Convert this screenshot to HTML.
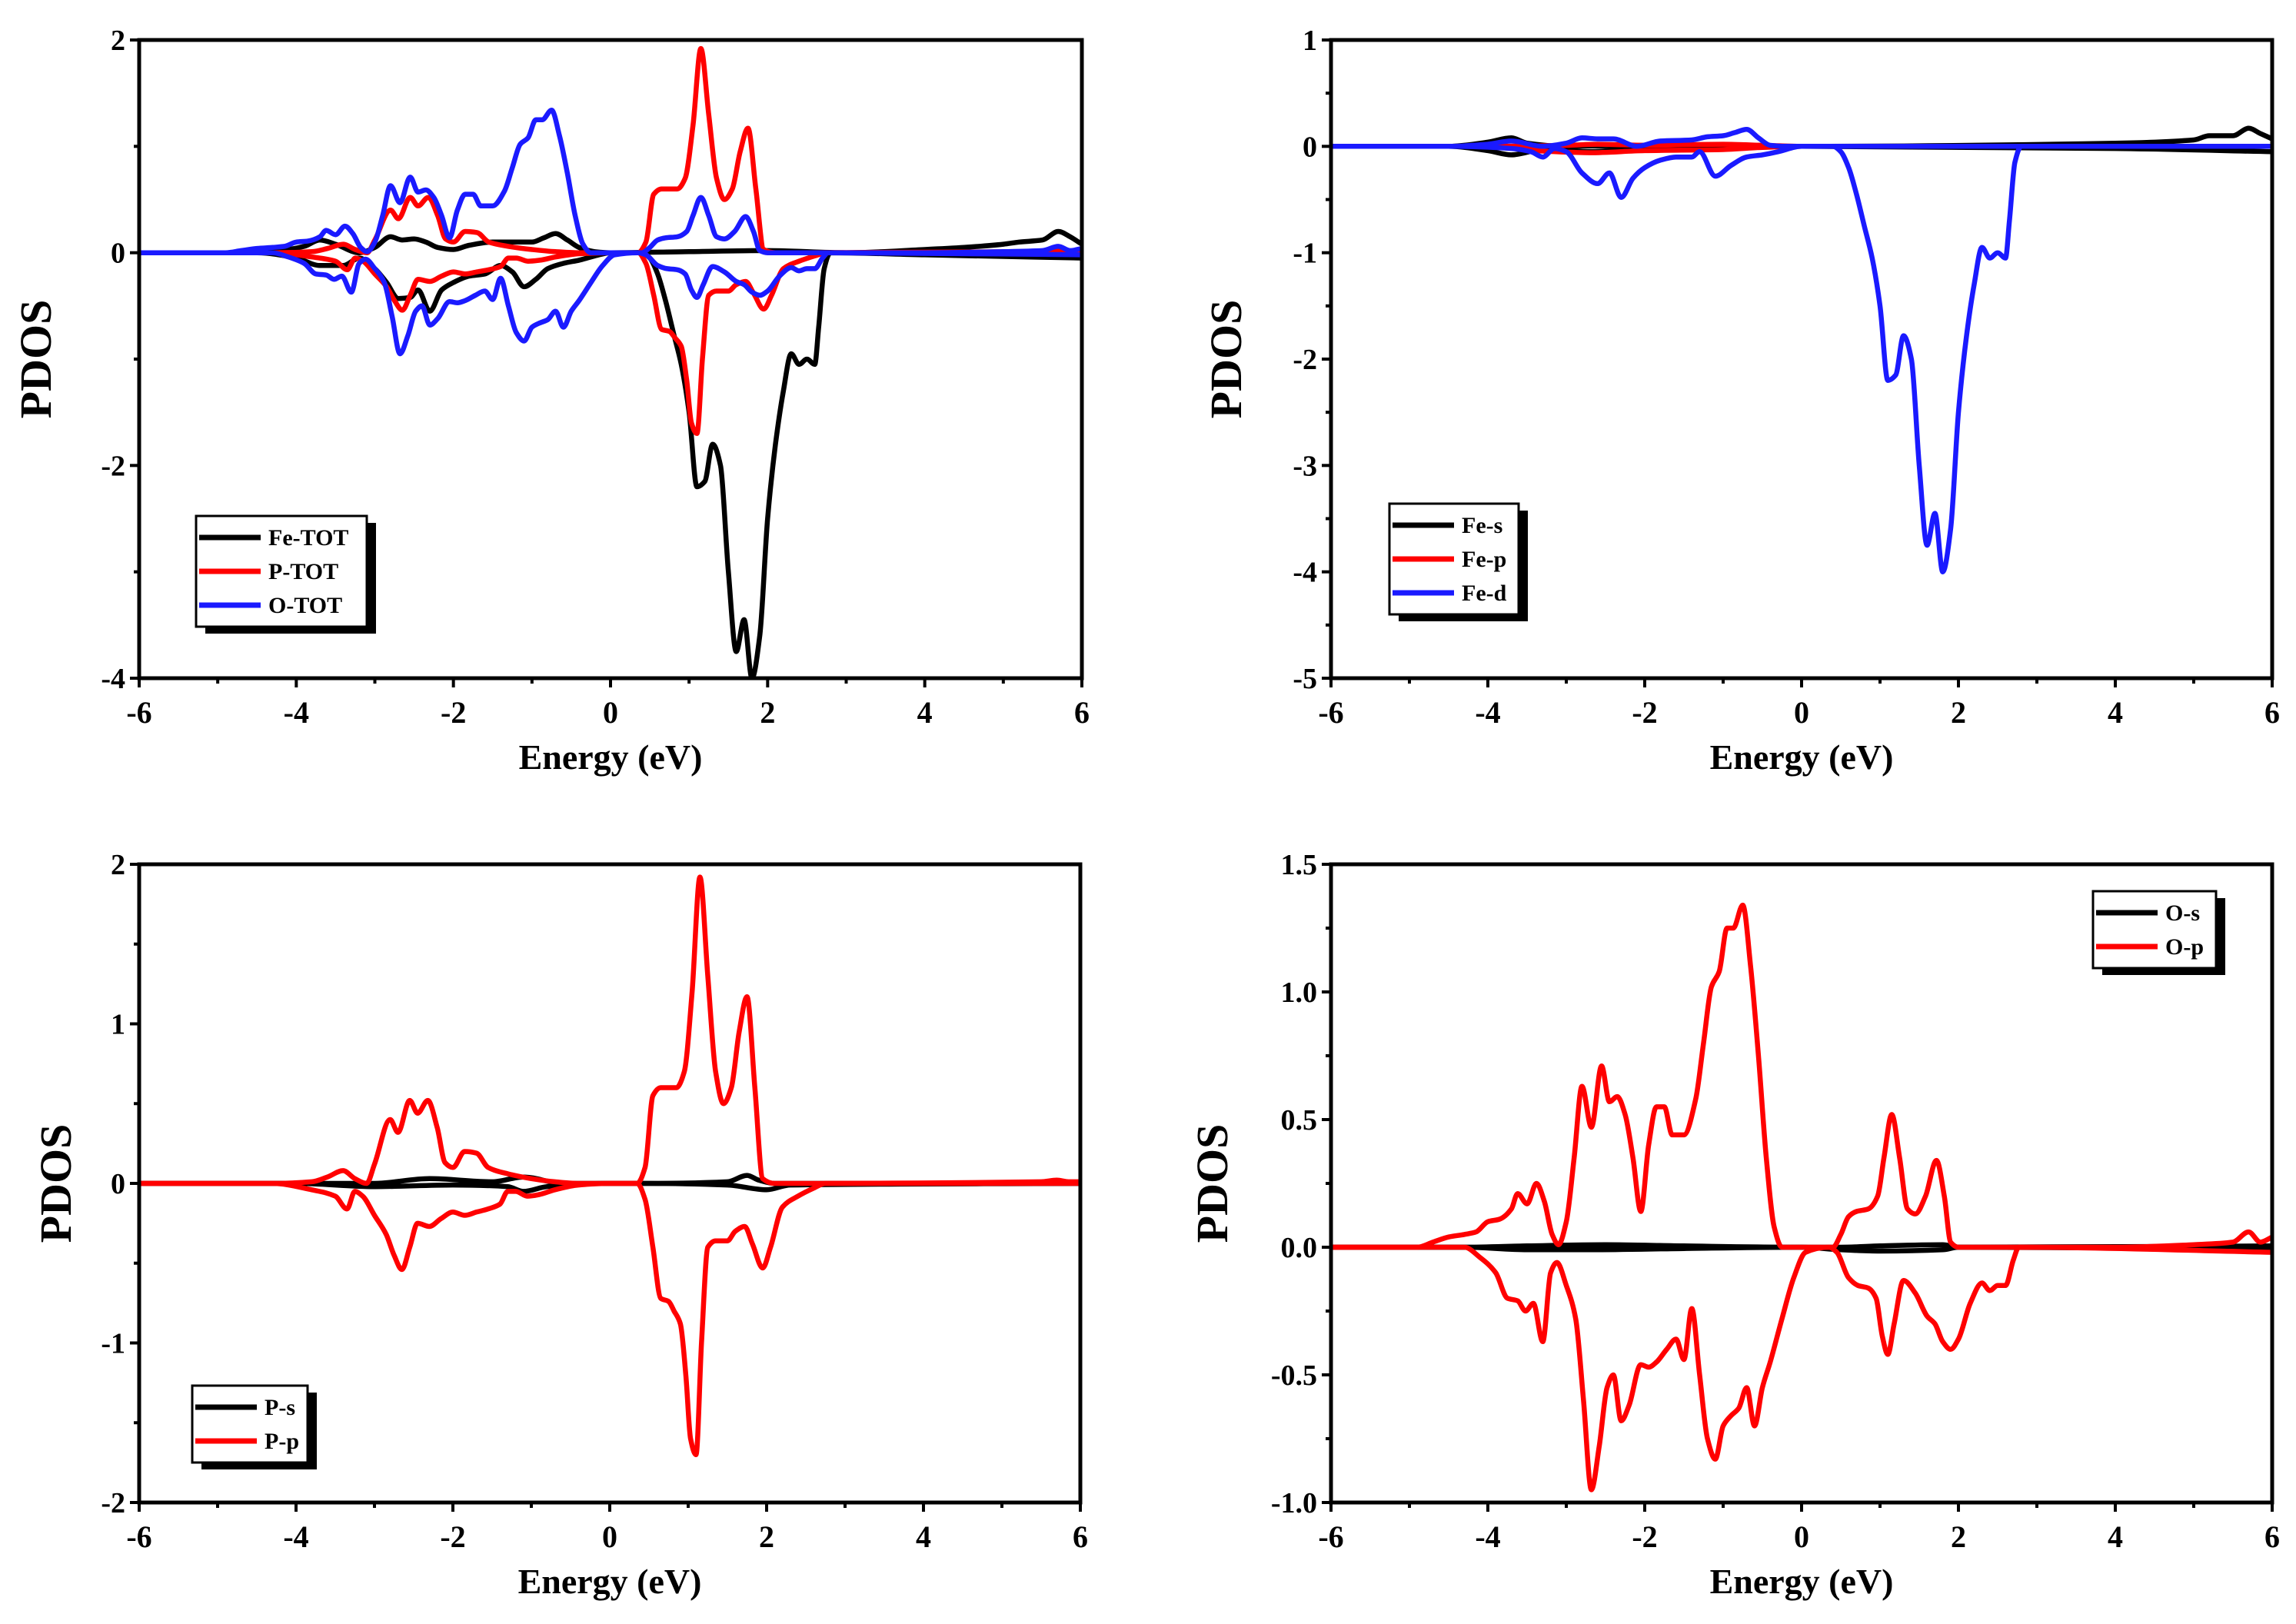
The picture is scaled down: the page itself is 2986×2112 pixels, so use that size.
<!DOCTYPE html>
<html><head><meta charset="utf-8">
<style>
html,body{margin:0;padding:0;background:#fff;}
svg{display:block;font-family:"Liberation Serif",serif;font-weight:bold;}
</style></head>
<body>
<svg id="fig" width="2986" height="2112" viewBox="0 0 2986 2112" xmlns="http://www.w3.org/2000/svg"></svg>
<script>
// ---------- DATA (energy eV, PDOS) ----------
const feTotUpX = [-6,-4.5,-4.2,-3.9,-3.7,-3.5,-3.2,-3.0,-2.8,-2.65,-2.5,-2.35,-2.2,-2.0,-1.8,-1.5,-1.2,-1.0,-0.85,-0.7,-0.55,-0.4,-0.2,0,1,2,3,4,4.5,5,5.2,5.5,5.7,5.85,6];
const feTotUpY = [0,0,0.02,0.06,0.12,0.08,0.0,0.05,0.15,0.12,0.13,0.1,0.05,0.03,0.07,0.1,0.1,0.1,0.14,0.18,0.12,0.05,0.01,0,0.01,0.02,0.0,0.03,0.05,0.08,0.1,0.12,0.2,0.15,0.08];
const feTotDnX = [-6,-4.5,-4.0,-3.7,-3.4,-3.2,-3.0,-2.85,-2.7,-2.55,-2.45,-2.3,-2.15,-2.0,-1.8,-1.6,-1.4,-1.25,-1.1,-0.95,-0.8,-0.6,-0.4,-0.2,0,0.4,0.5,0.6,0.7,0.8,0.9,1.0,1.1,1.2,1.3,1.4,1.5,1.6,1.7,1.8,1.9,2.0,2.1,2.2,2.3,2.4,2.5,2.6,2.65,2.72,2.8,4,6];
const feTotDnY = [0,0,-0.05,-0.12,-0.12,-0.05,-0.15,-0.28,-0.43,-0.42,-0.35,-0.55,-0.35,-0.28,-0.22,-0.2,-0.12,-0.18,-0.32,-0.25,-0.15,-0.1,-0.07,-0.03,0,0,-0.05,-0.2,-0.45,-0.75,-1.05,-1.5,-2.2,-2.15,-1.8,-2.0,-3.0,-3.75,-3.45,-4.0,-3.6,-2.5,-1.8,-1.3,-0.95,-1.05,-1.0,-1.05,-0.7,-0.15,0,-0.02,-0.05];

const pTotUpX = [-6,-4.3,-3.8,-3.6,-3.4,-3.25,-3.1,-3.0,-2.8,-2.7,-2.55,-2.45,-2.32,-2.2,-2.1,-2.0,-1.85,-1.7,-1.55,-1.3,-1.0,-0.7,-0.4,0,0.35,0.45,0.55,0.65,0.75,0.85,0.95,1.05,1.15,1.25,1.35,1.45,1.55,1.65,1.75,1.85,1.95,2.1,5.5,5.7,5.85,6];
const pTotUpY = [0,0,0.01,0.04,0.08,0.03,0.0,0.12,0.4,0.32,0.52,0.44,0.52,0.35,0.13,0.1,0.2,0.19,0.1,0.06,0.03,0.01,0.0,0,0,0.1,0.55,0.6,0.6,0.6,0.7,1.2,1.92,1.3,0.7,0.5,0.6,0.95,1.17,0.6,0.03,0,0.01,0.02,0.01,0.01];
const pTotDnX = [-6,-4.3,-3.8,-3.5,-3.35,-3.25,-3.15,-3.0,-2.85,-2.75,-2.65,-2.55,-2.45,-2.3,-2.15,-2.0,-1.85,-1.7,-1.55,-1.4,-1.3,-1.2,-1.05,-0.9,-0.7,-0.4,0,0.35,0.45,0.55,0.65,0.75,0.82,0.9,0.97,1.03,1.1,1.17,1.25,1.35,1.5,1.6,1.72,1.82,1.95,2.05,2.2,2.4,2.6,2.75,6];
const pTotDnY = [0,0,-0.04,-0.08,-0.16,-0.05,-0.08,-0.2,-0.32,-0.45,-0.54,-0.4,-0.25,-0.27,-0.22,-0.18,-0.2,-0.18,-0.16,-0.13,-0.05,-0.05,-0.08,-0.07,-0.04,-0.01,0,0,-0.1,-0.4,-0.72,-0.74,-0.8,-0.88,-1.2,-1.6,-1.7,-1.0,-0.4,-0.36,-0.36,-0.3,-0.27,-0.38,-0.53,-0.4,-0.15,-0.08,-0.03,0,0];

const oUpX = [-6,-4.9,-4.7,-4.5,-4.3,-4.15,-4.0,-3.85,-3.7,-3.62,-3.5,-3.38,-3.28,-3.18,-3.1,-3.0,-2.9,-2.8,-2.68,-2.55,-2.45,-2.35,-2.25,-2.15,-2.05,-1.95,-1.85,-1.75,-1.65,-1.5,-1.35,-1.25,-1.15,-1.05,-0.95,-0.87,-0.75,-0.65,-0.55,-0.45,-0.35,-0.25,0,0.4,0.5,0.6,0.7,0.85,0.97,1.05,1.15,1.25,1.35,1.45,1.58,1.72,1.82,1.9,2.0,4,5,5.5,5.7,5.85,6];
const oUpY = [0,0,0.02,0.04,0.05,0.06,0.1,0.11,0.15,0.21,0.17,0.25,0.18,0.05,0.01,0.1,0.35,0.63,0.47,0.71,0.57,0.59,0.52,0.35,0.14,0.4,0.55,0.55,0.44,0.44,0.58,0.8,1.02,1.08,1.25,1.25,1.34,1.1,0.75,0.35,0.08,0.0,0,0,0.05,0.12,0.14,0.15,0.2,0.35,0.52,0.35,0.15,0.13,0.2,0.34,0.2,0.02,0,0.0,0.01,0.02,0.06,0.02,0.04];
const oDnX = [-6,-4.3,-4.1,-3.9,-3.75,-3.62,-3.52,-3.42,-3.3,-3.2,-3.12,-3.0,-2.88,-2.78,-2.68,-2.58,-2.48,-2.4,-2.3,-2.2,-2.05,-1.95,-1.85,-1.72,-1.6,-1.5,-1.4,-1.3,-1.2,-1.1,-1.0,-0.9,-0.8,-0.7,-0.6,-0.5,-0.4,-0.25,-0.1,0.05,0.35,0.45,0.6,0.72,0.85,0.95,1.03,1.1,1.18,1.3,1.45,1.6,1.7,1.8,1.9,2.0,2.15,2.3,2.4,2.5,2.6,2.7,2.77,6];
const oDnY = [0,0,-0.04,-0.1,-0.2,-0.21,-0.25,-0.22,-0.37,-0.1,-0.06,-0.15,-0.28,-0.6,-0.95,-0.78,-0.55,-0.5,-0.68,-0.62,-0.46,-0.47,-0.45,-0.4,-0.36,-0.44,-0.24,-0.5,-0.75,-0.83,-0.7,-0.66,-0.63,-0.55,-0.7,-0.55,-0.45,-0.28,-0.12,-0.02,0,-0.02,-0.12,-0.15,-0.16,-0.2,-0.35,-0.42,-0.3,-0.13,-0.18,-0.27,-0.3,-0.37,-0.4,-0.36,-0.22,-0.14,-0.17,-0.15,-0.15,-0.05,0,-0.02];

const feSUpX = [-6,-4.5,-4.0,-3.7,-3.5,-3.0,-2.0,-1.0,0,4,5,5.2,5.5,5.7,5.85,6];
const feSUpY = [0,0,0.04,0.08,0.03,0.0,0.01,0.01,0,0.03,0.06,0.1,0.1,0.17,0.12,0.07];
const feSDnX = [-6,-4.5,-4.0,-3.7,-3.3,-2.7,-2.0,0,4,6];
const feSDnY = [0,0,-0.04,-0.08,-0.03,-0.05,-0.01,0,-0.02,-0.05];
const fePUpX = [-6,-4,-3.0,-2.6,-2.0,-1.0,-0.5,0,6];
const fePUpY = [0,0,0.01,0.02,0.01,0.02,0.01,0,0];
const fePDnX = [-6,-4,-3.4,-2.7,-2.0,-1.0,-0.5,0,6];
const fePDnY = [0,0,-0.04,-0.06,-0.04,-0.03,-0.01,0,0];
const feDUpX = [-6,-4.5,-4.0,-3.7,-3.3,-3.0,-2.8,-2.6,-2.4,-2.1,-1.8,-1.4,-1.2,-1.0,-0.85,-0.7,-0.55,-0.4,-0.2,0,6];
const feDUpY = [0,0,0.02,0.05,0.0,0.03,0.08,0.07,0.07,0.0,0.05,0.06,0.09,0.1,0.13,0.16,0.08,0.01,0,0,0];
const feDDnX = [-6,-4.5,-3.7,-3.45,-3.3,-3.15,-3.0,-2.8,-2.6,-2.45,-2.3,-2.15,-2.0,-1.8,-1.6,-1.4,-1.3,-1.1,-0.9,-0.7,-0.5,-0.3,0,0.4,0.5,0.6,0.7,0.8,0.9,1.0,1.1,1.2,1.3,1.4,1.5,1.6,1.7,1.8,1.9,2.0,2.1,2.2,2.3,2.4,2.5,2.6,2.65,2.72,2.8,6];
const feDDnY = [0,0,-0.02,-0.05,-0.1,-0.02,-0.05,-0.25,-0.35,-0.25,-0.48,-0.3,-0.2,-0.13,-0.1,-0.1,-0.05,-0.28,-0.18,-0.1,-0.08,-0.05,0,0,-0.05,-0.2,-0.45,-0.75,-1.05,-1.5,-2.2,-2.15,-1.78,-2.0,-3.0,-3.75,-3.45,-4.0,-3.6,-2.5,-1.8,-1.3,-0.95,-1.05,-1.0,-1.05,-0.7,-0.15,0,0];

const pSUpX = [-6,-4,-3.0,-2.3,-1.5,-1.1,-0.6,0,0.5,1.5,1.75,1.9,2.1,6];
const pSUpY = [0,0,0.0,0.03,0.01,0.04,0.0,0,0,0.01,0.05,0.02,0,0];
const pSDnX = [-6,-4,-3.0,-2.0,-1.3,-1.1,-0.8,0,0.5,1.5,2.0,2.3,6];
const pSDnY = [0,0,-0.02,-0.01,-0.02,-0.05,-0.02,0,0,-0.01,-0.04,-0.01,0];
const oSUpX = [-6,-4.3,-3.5,-2.5,-1.5,0,0.5,1.0,1.8,2,6];
const oSUpY = [0,0,0.005,0.01,0.005,0,0,0.005,0.01,0,0.005];
const oSDnX = [-6,-4.3,-3.5,-2.7,-1.5,0,0.5,1.0,1.8,2,6];
const oSDnY = [0,0,-0.01,-0.01,-0.005,0,-0.01,-0.015,-0.01,0,-0.005];

const xTicks = [-6,-4,-2,0,2,4,6];
const xTickLabels = ["-6","-4","-2","0","2","4","6"];
// ---------- DRAW ----------
const svg = document.getElementById('fig');
const NS = 'http://www.w3.org/2000/svg';
function mk(tag, attrs, parent){
  const e = document.createElementNS(NS, tag);
  for (const k in attrs) e.setAttribute(k, attrs[k]);
  (parent||svg).appendChild(e); return e;
}
// monotone cubic (Fritsch-Carlson) - no overshoot
function smoothPath(pts){
  const n = pts.length;
  const dx=[], m=[], t=new Array(n);
  for (let i=0;i<n-1;i++){ dx[i]=pts[i+1][0]-pts[i][0]; m[i]=(pts[i+1][1]-pts[i][1])/dx[i]; }
  t[0]=m[0]; t[n-1]=m[n-2];
  for (let i=1;i<n-1;i++){
    if (m[i-1]*m[i]<=0) t[i]=0;
    else { const w1=2*dx[i]+dx[i-1], w2=dx[i]+2*dx[i-1]; t[i]=(w1+w2)/(w1/m[i-1]+w2/m[i]); }
  }
  let d = 'M'+pts[0][0].toFixed(1)+','+pts[0][1].toFixed(1);
  for (let i=0;i<n-1;i++){
    const h=dx[i]/3;
    d+=' C'+(pts[i][0]+h).toFixed(1)+','+(pts[i][1]+t[i]*h).toFixed(1)+' '+(pts[i+1][0]-h).toFixed(1)+','+(pts[i+1][1]-t[i+1]*h).toFixed(1)+' '+pts[i+1][0].toFixed(1)+','+pts[i+1][1].toFixed(1);
  }
  return d;
}
function panel(cfg){
  const g = mk('g', {});
  
  
  const {L,R,T,B,ymin,ymax} = cfg;
  const sx = v => L + (v+6)/12*(R-L);
  const sy = v => B - (v-ymin)/(ymax-ymin)*(B-T);
  const clipId = cfg.name+'-clip';
  const cp = mk('clipPath',{id:clipId},g); mk('rect',{x:L,y:T-2,width:R-L,height:B-T+4},cp);
  const sg = mk('g',{'clip-path':'url(#'+clipId+')'},g);
  cfg.series.forEach(s=>{
    const pts = s.x.map((xv,i)=>[sx(xv), sy(s.y[i])]);
    const p = mk('path',{d:smoothPath(pts),fill:'none',stroke:s.color,'stroke-width':6.5,'stroke-linejoin':'round'},sg);
    
    
  });
  const fr = mk('rect',{x:L,y:T,width:R-L,height:B-T,fill:'none',stroke:'#000','stroke-width':5},g);
  
  
  for (let v=-6; v<=6; v+=1){
    const major = (v%2===0);
    mk('line',{x1:sx(v),x2:sx(v),y1:B,y2:B+(major?12:7),stroke:'#000','stroke-width':4},g);
  }
  xTicks.forEach((v,i)=>{
    const t = mk('text',{x:sx(v),y:B+58,'text-anchor':'middle','font-size':40},g);
    t.textContent = xTickLabels[i];
    
    
  });
  cfg.yMinor.forEach(v=>{ mk('line',{x1:L,x2:L-7,y1:sy(v),y2:sy(v),stroke:'#000','stroke-width':4},g); });
  cfg.yTicks.forEach((v,i)=>{
    mk('line',{x1:L,x2:L-12,y1:sy(v),y2:sy(v),stroke:'#000','stroke-width':4},g);
    const t = mk('text',{x:L-18,y:sy(v)+13,'text-anchor':'end','font-size':38},g);
    t.textContent = cfg.yLabels[i];
    
    
  });
  const xt = mk('text',{x:(L+R)/2,y:B+118,'text-anchor':'middle','font-size':46},g);
  xt.textContent = 'Energy (eV)';
  
  
  const yt = mk('text',{x:0,y:0,'text-anchor':'middle','font-size':58,transform:'translate('+(cfg.ytx)+','+((T+B)/2)+') rotate(-90)'},g);
  yt.textContent = 'PDOS';
  
  
  const lg = mk('g',{},g);
  
  
  const lx=cfg.leg.x, ly=cfg.leg.y, lw=cfg.leg.w, rh=44, lh=cfg.legend.length*rh+12;
  mk('rect',{x:lx+12,y:ly+9,width:lw,height:lh,fill:'#000'},lg);
  mk('rect',{x:lx,y:ly,width:lw,height:lh,fill:'#fff',stroke:'#000','stroke-width':3},lg);
  cfg.legend.forEach((e,i)=>{
    const yy = ly+28+i*rh;
    mk('line',{x1:lx+4,x2:lx+84,y1:yy,y2:yy,stroke:e.color,'stroke-width':7},lg);
    const t = mk('text',{x:lx+94,y:yy+10,'font-size':30},lg);
    t.textContent = e.label;
    
    
  });
}
const BK='#000', RD='#ff0000', BL='#1a1aff';
panel({name:'panel-total-pdos',L:181,R:1407,T:52,B:882,ymin:-4,ymax:2,ytx:66,
  yTicks:[-4,-2,0,2],yLabels:['-4','-2','0','2'],yMinor:[-3,-1,1],
  series:[
    {id:'fe-tot-up',x:feTotUpX,y:feTotUpY,color:BK},{id:'fe-tot-down',x:feTotDnX,y:feTotDnY,color:BK},
    {id:'p-tot-up',x:pTotUpX,y:pTotUpY,color:RD},{id:'p-tot-down',x:pTotDnX,y:pTotDnY,color:RD},
    {id:'o-tot-up',x:oUpX,y:oUpY,color:BL},{id:'o-tot-down',x:oDnX,y:oDnY,color:BL}],
  leg:{x:255,y:671,w:222},legend:[{label:'Fe-TOT',color:BK},{label:'P-TOT',color:RD},{label:'O-TOT',color:BL}]});
panel({name:'panel-fe-pdos',L:1731,R:2955,T:52,B:882,ymin:-5,ymax:1,ytx:1614,
  yTicks:[-5,-4,-3,-2,-1,0,1],yLabels:['-5','-4','-3','-2','-1','0','1'],yMinor:[-4.5,-3.5,-2.5,-1.5,-0.5,0.5],
  series:[
    {id:'fe-s-up',x:feSUpX,y:feSUpY,color:BK},{id:'fe-s-down',x:feSDnX,y:feSDnY,color:BK},
    {id:'fe-p-up',x:fePUpX,y:fePUpY,color:RD},{id:'fe-p-down',x:fePDnX,y:fePDnY,color:RD},
    {id:'fe-d-up',x:feDUpX,y:feDUpY,color:BL},{id:'fe-d-down',x:feDDnX,y:feDDnY,color:BL}],
  leg:{x:1807,y:655,w:168},legend:[{label:'Fe-s',color:BK},{label:'Fe-p',color:RD},{label:'Fe-d',color:BL}]});
panel({name:'panel-p-pdos',L:181,R:1405,T:1124,B:1954,ymin:-2,ymax:2,ytx:92,
  yTicks:[-2,-1,0,1,2],yLabels:['-2','-1','0','1','2'],yMinor:[-1.5,-0.5,0.5,1.5],
  series:[
    {id:'p-s-up',x:pSUpX,y:pSUpY,color:BK},{id:'p-s-down',x:pSDnX,y:pSDnY,color:BK},
    {id:'p-p-up',x:pTotUpX,y:pTotUpY,color:RD},{id:'p-p-down',x:pTotDnX,y:pTotDnY,color:RD}],
  leg:{x:250,y:1802,w:150},legend:[{label:'P-s',color:BK},{label:'P-p',color:RD}]});
panel({name:'panel-o-pdos',L:1731,R:2955,T:1124,B:1954,ymin:-1,ymax:1.5,ytx:1596,
  yTicks:[-1,-0.5,0,0.5,1,1.5],yLabels:['-1.0','-0.5','0.0','0.5','1.0','1.5'],yMinor:[-0.75,-0.25,0.25,0.75,1.25],
  series:[
    {id:'o-s-up',x:oSUpX,y:oSUpY,color:BK},{id:'o-s-down',x:oSDnX,y:oSDnY,color:BK},
    {id:'o-p-up',x:oUpX,y:oUpY,color:RD},{id:'o-p-down',x:oDnX,y:oDnY,color:RD}],
  leg:{x:2722,y:1159,w:160},legend:[{label:'O-s',color:BK},{label:'O-p',color:RD}]});
</script>
</body></html>
